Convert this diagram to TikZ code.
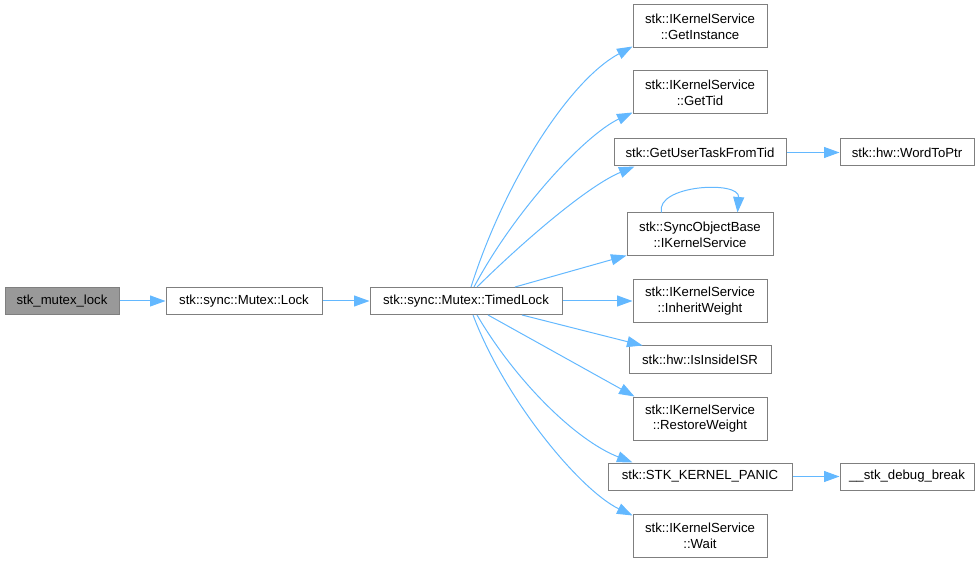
\documentclass[tikz,border=0pt]{standalone}
\usepackage{fontspec}
\setmainfont{Liberation Sans}
\usetikzlibrary{arrows.meta, positioning}
\definecolor{edgeblue}{HTML}{63B8FF}
\definecolor{boxgray}{HTML}{7F7F7F}
\definecolor{rootfill}{HTML}{999999}
\tikzstyle{func}=[rectangle,draw=boxgray,fill=white,inner sep=1pt,align=center,font=\fontsize{7.5}{9}\selectfont]
\tikzstyle{root}=[func,fill=rootfill]
\tikzstyle{call}=[-{Triangle[length=0.31cm,width=0.22cm]},color=edgeblue]

\begin{document}
\begin{tikzpicture}[x=0.02cm,y=-0.02cm,line width=0.02cm]
  \useasboundingbox (0,0) rectangle (979,563);

  \node[root,minimum width=114*0.02cm,minimum height=27*0.02cm] (F-mutexlock) at (62,301) {stk\_mutex\_lock};

  \foreach \name/\lbl/\x/\y/\w/\h in {
    lock/{stk::sync::Mutex::Lock}/244/301/156/27,
    timedlock/{stk::sync::Mutex::TimedLock}/466/301/192/27,
    getinstance/{stk::IKernelService\\::GetInstance}/700/26.5/134/43,
    gettid/{stk::IKernelService\\::GetTid}/700/92.5/134/43,
    usertask/{stk::GetUserTaskFromTid}/700/152.5/172/27,
    wordtoptr/{stk::hw::WordToPtr}/907/152.5/134/27,
    syncobj/{stk::SyncObjectBase\\::IKernelService}/700/234.5/146/43,
    inherit/{stk::IKernelService\\::InheritWeight}/700/301/134/43,
    insideisr/{stk::hw::IsInsideISR}/700/359.5/142/27,
    restore/{stk::IKernelService\\::RestoreWeight}/700/418.5/134/43,
    panic/{stk::STK\_KERNEL\_PANIC}/700/476.5/184/27,
    debugbreak/{\_\_stk\_debug\_break}/907/476.5/134/27,
    wait/{stk::IKernelService\\::Wait}/700/535.5/134/43}
    \node[func,minimum width=\w*0.02cm,minimum height=\h*0.02cm] (F-\name) at (\x,\y) {\lbl};

  \draw[call] (F-mutexlock) -- (F-lock);
  \draw[call] (F-lock) -- (F-timedlock);
  \draw[call] ([xshift=0.1cm]F-timedlock.north) .. controls (505,180) and (570,80) .. ([yshift=0.04cm]F-getinstance.south west);
  \draw[call] ([xshift=0.16cm]F-timedlock.north) .. controls (515,210) and (585,135) .. ([yshift=0.04cm]F-gettid.south west);
  \draw[call] ([xshift=0.22cm]F-timedlock.north) .. controls (530,235) and (590,185) .. ([xshift=0.42cm]F-usertask.south west);
  \draw[call] ([xshift=0.98cm]F-timedlock.north) -- ([yshift=0.02cm]F-syncobj.south west);
  \draw[call] (F-syncobj.north west) ++(35,0) .. controls (655,185) and (740,180) .. ([xshift=-0.72cm]F-syncobj.north east);
  \draw[call] (F-timedlock) -- (F-inherit);
  \draw[call] ([xshift=1.12cm]F-timedlock.south) -- ([xshift=0.28cm]F-insideisr.north west);
  \draw[call] ([xshift=0.44cm]F-timedlock.south) -- ([xshift=0.04cm]F-restore.north west);
  \draw[call] ([xshift=0.22cm]F-timedlock.south) .. controls (515,380) and (575,440) .. ([xshift=0.5cm]F-panic.north west);
  \draw[call] ([xshift=0.14cm]F-timedlock.south) .. controls (505,400) and (580,490) .. ([yshift=-0.04cm]F-wait.north west);
  \draw[call] (F-usertask) -- (F-wordtoptr);
  \draw[call] (F-panic) -- (F-debugbreak);

\end{tikzpicture}
\end{document}
